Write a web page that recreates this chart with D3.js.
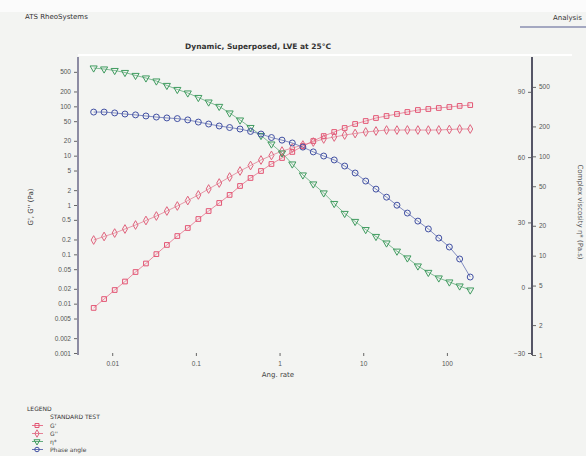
<!DOCTYPE html>
<html>
<head>
<meta charset="utf-8">
<script src="https://cdn.jsdelivr.net/npm/d3@7"></script>
<style>
  body { margin: 0; background: #f3f4f2; }
  svg { display: block; font-family: "DejaVu Sans", sans-serif; }
</style>
</head>
<body>
<svg id="chart" width="586" height="456"></svg>
<script>
// angular rate (rad/s)
const freq = [0.006, 0.008, 0.0107, 0.0142, 0.019, 0.0253, 0.0337, 0.045, 0.06, 0.08,
  0.107, 0.142, 0.19, 0.253, 0.337, 0.45, 0.6, 0.8, 1.07, 1.42,
  1.9, 2.53, 3.37, 4.5, 6, 8, 10.7, 14.2, 19, 25.3,
  33.7, 45, 60, 80, 107, 142, 190];

// storage modulus G' (Pa)
const gPrime = [0.0082, 0.0124, 0.0189, 0.0281, 0.0438, 0.0652, 0.101, 0.155, 0.235, 0.342,
  0.52, 0.755, 1.10, 1.60, 2.43, 3.53, 4.89, 6.78, 8.97, 11.9,
  15.7, 19.8, 25.0, 30.2, 36.4, 43.9, 50.4, 58.0, 63.7, 70.0,
  76.8, 84.3, 88.3, 92.5, 96.9, 102, 106];

// loss modulus G'' (Pa)
const gDouble = [0.195, 0.230, 0.270, 0.326, 0.393, 0.485, 0.598, 0.755, 0.955, 1.23,
  1.60, 2.11, 2.79, 3.69, 4.89, 6.31, 8.17, 10.1, 12.4, 14.3,
  16.4, 18.9, 21.8, 23.9, 26.2, 28.1, 30.2, 31.6, 33.1, 33.0,
  33.2, 33.1, 33.0, 33.2, 33.9, 34.7, 34.7];

// complex viscosity (Pa.s)
const etaStar = [775, 757, 731, 698, 652, 615, 573, 517, 471, 434,
  391, 352, 318, 273, 232, 195, 162, 133, 108, 83.7,
  64.9, 52.7, 42.8, 33.5, 26.6, 22.1, 18.3, 15.6, 13.4, 11.1,
  9.48, 7.87, 6.78, 5.96, 5.43, 4.95, 4.51];

// phase angle (deg)
const phase = [80.7, 80.7, 80.3, 79.8, 79.4, 78.9, 78.4, 78.0, 77.7, 77.1,
  76.1, 75.2, 74.3, 73.6, 72.9, 71.8, 70.6, 69.0, 67.8, 66.5,
  64.6, 62.4, 60.5, 58.7, 55.9, 52.7, 49.0, 45.3, 41.6, 37.9,
  34.3, 30.6, 27.0, 22.8, 18.7, 13.2, 4.9];

const xTicks = [0.01, 0.1, 1, 10, 100];
const leftTicks = [500, 200, 100, 50, 20, 10, 5, 2, 1, 0.5, 0.2, 0.1, 0.05, 0.02, 0.01, 0.005, 0.002, 0.001];
const phaseTicks = [90, 60, 30, 0, -30];
const etaTicks = [500, 200, 100, 50, 20, 10, 5, 2, 1];

const svg = d3.select("#chart");
const plotL = 78, plotR = 532, plotT = 57, plotB = 353;

svg.append("rect").attr("width", 586).attr("height", 12).attr("fill", "#fbfbfb");

var x = d3.scaleLog().domain([0.0039, 1040]).range([plotL, plotR]),
    yL = d3.scaleLog().domain([0.001, 1000]).range([plotB, plotT]),
    yR = d3.scaleLog().domain([1, 1000]).range([plotB + 2, plotT]),
    yP = d3.scaleLinear().domain([-30, 106]).range([plotB, plotT]);

// header texts
svg.append("text").attr("x", 25).attr("y", 19).attr("font-size", 7).attr("fill", "#333")
  .text("ATS RheoSystems");
svg.append("text").attr("x", 553).attr("y", 20).attr("font-size", 7).attr("fill", "#333")
  .text("Analysis");
svg.append("line").attr("x1", 520).attr("x2", 586).attr("y1", 27).attr("y2", 27)
  .attr("stroke", "#8a8fb0").attr("stroke-width", 1.5);
svg.append("text").attr("x", 258).attr("y", 49).attr("text-anchor", "middle")
  .attr("font-size", 7.5).attr("font-weight", "bold").attr("fill", "#333")
  .text("Dynamic, Superposed, LVE at 25°C");

svg.append("line").attr("x1", plotL).attr("x2", plotR + 40).attr("y1", plotT - 2).attr("y2", plotT - 2)
  .attr("stroke", "#ffffff").attr("stroke-width", 2);

// axes
let axL = svg.append("g").attr("transform", "translate(" + plotL + ",0)")
  .call(d3.axisLeft(yL).tickValues(leftTicks).tickFormat(d3.format("~g")).tickSize(4));
let axX = svg.append("g").attr("transform", "translate(0," + plotB + ")")
  .call(d3.axisBottom(x).tickValues(xTicks).tickFormat(d3.format("~g")).tickSize(3));
let axP = svg.append("g").attr("transform", "translate(" + plotR + ",0)")
  .call(d3.axisLeft(yP).tickValues(phaseTicks).tickSize(4));
let axR = svg.append("g").attr("transform", "translate(" + plotR + ",0)")
  .call(d3.axisRight(yR).tickValues(etaTicks).tickFormat(d3.format("~g")).tickSize(4));

[axL, axX, axP, axR].forEach(function(a) {
  a.selectAll("text").attr("font-size", 6.5).attr("fill", "#555");
  a.selectAll(".tick line").attr("stroke", "#666");
  a.select(".domain").attr("stroke", "none");
});
axX.selectAll("text").attr("dy", "1.1em");

svg.append("line").attr("x1", plotL).attr("x2", plotL).attr("y1", plotT).attr("y2", plotB + 2)
  .attr("stroke", "#8d8ca3").attr("stroke-width", 2);
svg.append("line").attr("x1", plotR).attr("x2", plotR).attr("y1", plotT).attr("y2", plotB + 2)
  .attr("stroke", "#555566").attr("stroke-width", 2);

// axis titles
svg.append("text").attr("transform", "translate(33,207) rotate(-90)").attr("text-anchor", "middle")
  .attr("font-size", 7).attr("fill", "#333").text("G', G'' (Pa)");
svg.append("text").attr("transform", "translate(578,212) rotate(90)").attr("text-anchor", "middle")
  .attr("font-size", 7).attr("fill", "#555").text("Complex viscosity η* (Pa.s)");
svg.append("text").attr("x", 278).attr("y", 377).attr("text-anchor", "middle")
  .attr("font-size", 7).attr("fill", "#444").text("Ang. rate");

// series
let series = [
  {id: "G'", values: gPrime, y: yL, color: "#e35473", symbol: d3.symbolSquare, rot: 0},
  {id: "G''", values: gDouble, y: yL, color: "#e0647e", symbol: d3.symbolDiamond, rot: 0},
  {id: "η*", values: etaStar, y: yR, color: "#3f9b5f", symbol: d3.symbolTriangle, rot: 180},
  {id: "Phase angle", values: phase, y: yP, color: "#4150a3", symbol: d3.symbolCircle, rot: 0}
];

var line = d3.line();

let s = svg.selectAll(".series")
  .data(series)
  .enter().append("g")
    .attr("class", "series");

s.append("path")
  .attr("fill", "none")
  .attr("stroke", function(d) { return d.color; })
  .attr("stroke-width", 0.8)
  .attr("opacity", 0.8)
  .attr("d", function(d) {
    return line(d.values.map(function(v, i) { return [x(freq[i]), d.y(v)]; }));
  });

s.each(function(d) {
  d3.select(this).selectAll("path.pt")
    .data(d.values)
    .enter().append("path")
      .attr("class", "pt")
      .attr("d", d3.symbol().type(d.symbol).size(d.symbol === d3.symbolCircle ? 28 : 22))
      .attr("transform", function(v, i) {
        return "translate(" + x(freq[i]) + "," + d.y(v) + ") rotate(" + d.rot + ")";
      })
      .attr("fill", "none")
      .attr("stroke", d.color)
      .attr("stroke-width", 1);
});

// legend
let lg = svg.append("g");
lg.append("text").attr("x", 27).attr("y", 411).attr("font-size", 6).attr("fill", "#333").text("LEGEND");
lg.append("text").attr("x", 50).attr("y", 419).attr("font-size", 6).attr("fill", "#333").text("STANDARD TEST");
let items = lg.selectAll(".item").data(series).enter().append("g")
  .attr("transform", function(d, i) { return "translate(0," + (425.5 + i * 8) + ")"; });
items.append("line").attr("x1", 32).attr("x2", 43).attr("stroke", function(d) { return d.color; }).attr("stroke-width", 0.8);
items.append("path")
  .attr("d", function(d) { return d3.symbol().type(d.symbol).size(16)(); })
  .attr("transform", function(d) { return "translate(37,0) rotate(" + d.rot + ")"; })
  .attr("fill", "none").attr("stroke", function(d) { return d.color; });
items.append("text").attr("x", 50).attr("dy", "0.35em").attr("font-size", 6).attr("fill", "#444")
  .text(function(d) { return d.id; });
</script>
</body>
</html>
